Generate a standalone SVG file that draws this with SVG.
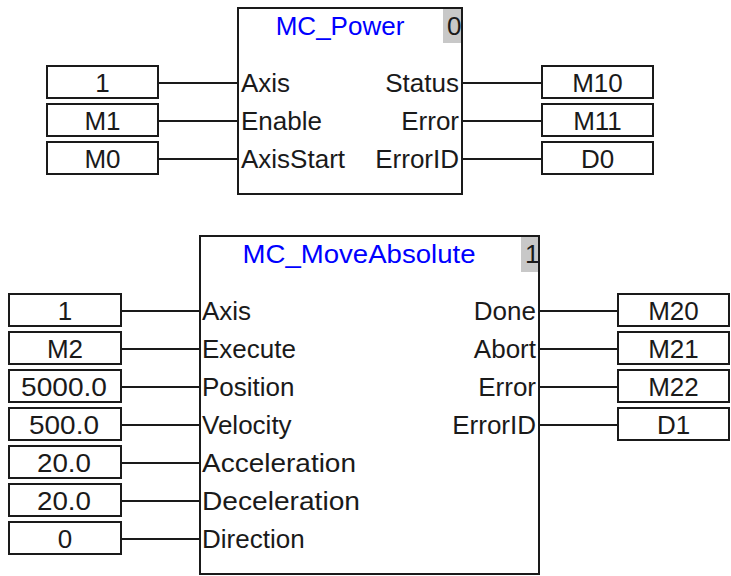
<svg xmlns="http://www.w3.org/2000/svg" width="731" height="576" viewBox="0 0 731 576">
<style>
text{font-family:"Liberation Sans",Arial,sans-serif;font-size:26px;fill:#1a1a1a}
.blk{fill:#fff;stroke:#1a1a1a;stroke-width:2}
.idx{fill:#c8c8c8;stroke:none}
.title{fill:#0000ff;text-anchor:middle}
.val{fill:#fff;stroke:#1a1a1a;stroke-width:2}
.vt{text-anchor:middle}
.r{text-anchor:end}
.wire{stroke:#1a1a1a;stroke-width:2;fill:none}
</style>
<rect width="731" height="576" fill="#fff"/>
<g id="connectors">
<path class="wire" d="M159 83H237M159 121H237M159 159H237M463 83H541M463 121H541M463 159H541"/>
<path class="wire" d="M122 311H199M122 349H199M122 387H199M122 425H199M122 463H199M122 501H199M122 539H199M540 311H617M540 349H617M540 387H617M540 425H617"/>
</g>
<g id="mc_power">
<rect class="blk" x="238" y="8" width="224" height="186"/>
<rect class="idx" x="443" y="9" width="18" height="34"/>
<text class="title" x="340" y="35">MC_Power</text>
<text x="447" y="35">0</text>
<text x="241" y="92">Axis</text>
<text x="241" y="130">Enable</text>
<text x="241" y="168">AxisStart</text>
<text class="r" x="459" y="92">Status</text>
<text class="r" x="459" y="130">Error</text>
<text class="r" x="459" y="168">ErrorID</text>
</g>
<g id="p_in1"><rect class="val" x="47" y="66" width="111" height="32"/><text class="vt" x="102.5" y="92">1</text></g>
<g id="p_in2"><rect class="val" x="47" y="104" width="111" height="32"/><text class="vt" x="102.5" y="130">M1</text></g>
<g id="p_in3"><rect class="val" x="47" y="142" width="111" height="32"/><text class="vt" x="102.5" y="168">M0</text></g>
<g id="p_out1"><rect class="val" x="542" y="66" width="111" height="32"/><text class="vt" x="597.5" y="92">M10</text></g>
<g id="p_out2"><rect class="val" x="542" y="104" width="111" height="32"/><text class="vt" x="597.5" y="130">M11</text></g>
<g id="p_out3"><rect class="val" x="542" y="142" width="111" height="32"/><text class="vt" x="597.5" y="168">D0</text></g>
<g id="mc_moveabsolute">
<rect class="blk" x="200" y="236" width="339" height="338"/>
<rect class="idx" x="521" y="237" width="17" height="35"/>
<text class="title" x="359" y="263" textLength="233" lengthAdjust="spacingAndGlyphs">MC_MoveAbsolute</text>
<text x="525" y="263">1</text>
<text x="202" y="320">Axis</text>
<text x="202" y="358">Execute</text>
<text x="202" y="396">Position</text>
<text x="202" y="434">Velocity</text>
<text x="202" y="472" textLength="154" lengthAdjust="spacingAndGlyphs">Acceleration</text>
<text x="202" y="510" textLength="158" lengthAdjust="spacingAndGlyphs">Deceleration</text>
<text x="202" y="548">Direction</text>
<text class="r" x="536" y="320">Done</text>
<text class="r" x="536" y="358">Abort</text>
<text class="r" x="536" y="396">Error</text>
<text class="r" x="536" y="434">ErrorID</text>
</g>
<g id="m_in1"><rect class="val" x="9" y="294" width="112" height="32"/><text class="vt" x="65" y="320">1</text></g>
<g id="m_in2"><rect class="val" x="9" y="332" width="112" height="32"/><text class="vt" x="65" y="358">M2</text></g>
<g id="m_in3"><rect class="val" x="9" y="370" width="112" height="32"/><text class="vt" x="64" y="396" textLength="86" lengthAdjust="spacingAndGlyphs">5000.0</text></g>
<g id="m_in4"><rect class="val" x="9" y="408" width="112" height="32"/><text class="vt" x="64" y="434" textLength="70" lengthAdjust="spacingAndGlyphs">500.0</text></g>
<g id="m_in5"><rect class="val" x="9" y="446" width="112" height="32"/><text class="vt" x="64" y="472" textLength="54" lengthAdjust="spacingAndGlyphs">20.0</text></g>
<g id="m_in6"><rect class="val" x="9" y="484" width="112" height="32"/><text class="vt" x="64" y="510" textLength="54" lengthAdjust="spacingAndGlyphs">20.0</text></g>
<g id="m_in7"><rect class="val" x="9" y="522" width="112" height="32"/><text class="vt" x="65" y="548">0</text></g>
<g id="m_out1"><rect class="val" x="618" y="294" width="111" height="32"/><text class="vt" x="673.5" y="320">M20</text></g>
<g id="m_out2"><rect class="val" x="618" y="332" width="111" height="32"/><text class="vt" x="673.5" y="358">M21</text></g>
<g id="m_out3"><rect class="val" x="618" y="370" width="111" height="32"/><text class="vt" x="673.5" y="396">M22</text></g>
<g id="m_out4"><rect class="val" x="618" y="408" width="111" height="32"/><text class="vt" x="673.5" y="434">D1</text></g>
</svg>
